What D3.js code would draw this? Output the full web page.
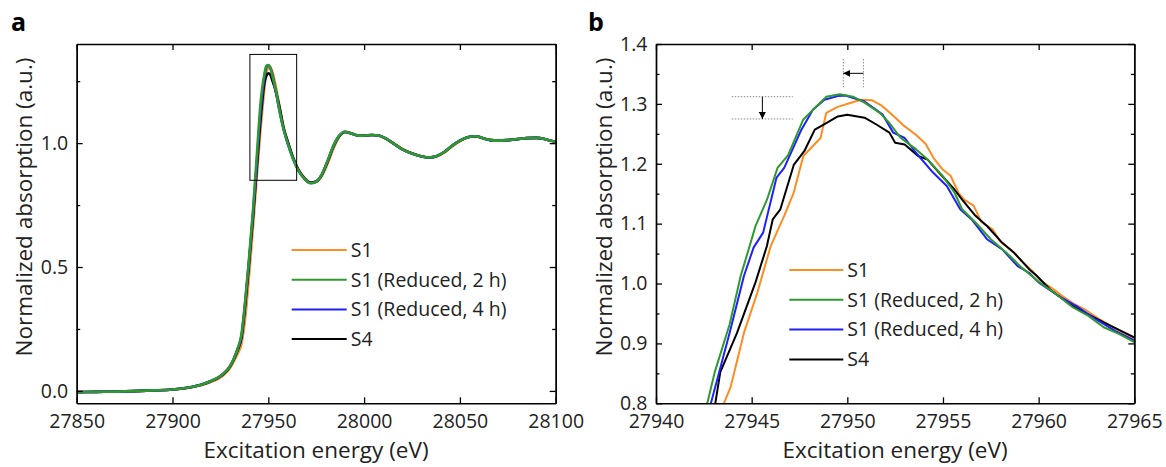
<!DOCTYPE html>
<html><head><meta charset="utf-8">
<script src="https://cdn.jsdelivr.net/npm/d3@7"></script>
<style>
html,body{margin:0;padding:0;background:#fff;}
svg text{font-family:"Open Sans","Noto Sans",sans-serif;}
</style></head>
<body>
<svg id="c" width="1166" height="467"></svg>
<script>
// ---------------- DATA ----------------
const seriesNames = ["S1", "S1 (Reduced, 2 h)", "S1 (Reduced, 4 h)", "S4"];

// Panel a: full spectra (shared energy grid)
const energyA = [27850,27860,27870,27880,27890,27900,27905,27910,27915,27920,27924,27927,27930,27932,27934,27936,27938,27940,27942,27944,27946,27948,27949,27950,27951,27952,27954,27956,27958,27960,27963,27966,27969,27972,27975,27978,27981,27984,27987,27990,27993,27996,28000,28004,28008,28012,28016,28020,28025,28030,28034,28038,28042,28046,28050,28054,28058,28062,28066,28070,28075,28080,28085,28090,28095,28100];
const s1A   = [-0.005,-0.004,-0.003,-0.001,0.002,0.006,0.009,0.015,0.023,0.036,0.050,0.066,0.092,0.12,0.15,0.19,0.30,0.47,0.66,0.87,1.06,1.225,1.29,1.302,1.306,1.29,1.225,1.14,1.065,1.008,0.94,0.89,0.86,0.842,0.843,0.868,0.918,0.978,1.025,1.044,1.040,1.033,1.030,1.033,1.030,1.016,0.996,0.977,0.959,0.947,0.943,0.947,0.963,0.987,1.008,1.023,1.028,1.021,1.012,1.010,1.012,1.016,1.020,1.021,1.015,1.005];
const s1r2A = [-0.005,-0.004,-0.003,-0.001,0.002,0.006,0.010,0.016,0.025,0.040,0.055,0.073,0.10,0.13,0.17,0.23,0.37,0.54,0.73,0.95,1.165,1.28,1.312,1.315,1.305,1.275,1.21,1.125,1.055,1.003,0.935,0.885,0.855,0.838,0.845,0.875,0.93,0.99,1.03,1.046,1.040,1.032,1.030,1.033,1.030,1.015,0.995,0.975,0.958,0.946,0.942,0.948,0.965,0.990,1.010,1.024,1.028,1.020,1.012,1.010,1.012,1.016,1.020,1.021,1.015,1.005];
const s1r4A = [-0.005,-0.004,-0.003,-0.001,0.002,0.006,0.010,0.016,0.025,0.040,0.055,0.072,0.10,0.13,0.17,0.22,0.36,0.53,0.71,0.92,1.13,1.27,1.307,1.314,1.305,1.28,1.205,1.125,1.057,1.002,0.936,0.886,0.856,0.839,0.845,0.874,0.928,0.988,1.029,1.046,1.040,1.032,1.030,1.033,1.030,1.015,0.995,0.975,0.958,0.946,0.942,0.948,0.965,0.990,1.010,1.024,1.028,1.020,1.012,1.010,1.012,1.016,1.020,1.021,1.015,1.005];
const s4A   = [-0.005,-0.004,-0.003,-0.001,0.002,0.006,0.010,0.016,0.025,0.039,0.054,0.071,0.098,0.127,0.165,0.215,0.35,0.52,0.70,0.90,1.10,1.245,1.272,1.282,1.277,1.255,1.207,1.14,1.06,1.01,0.94,0.888,0.857,0.840,0.845,0.873,0.927,0.987,1.028,1.045,1.040,1.032,1.030,1.033,1.030,1.015,0.995,0.975,0.958,0.946,0.942,0.948,0.965,0.990,1.010,1.024,1.028,1.020,1.012,1.010,1.012,1.016,1.020,1.021,1.015,1.005];

// Panel b: zoom of the white line, [energy, absorption]
const s1B = [[27943.4,0.78],[27943.55,0.80],[27943.9,0.827],[27944.6,0.918],[27945.3,0.985],[27946.0,1.063],[27946.7,1.113],[27947.2,1.152],[27947.7,1.213],[27948.6,1.243],[27948.9,1.285],[27949.5,1.295],[27950.2,1.302],[27950.7,1.307],[27951.3,1.306],[27951.8,1.297],[27952.3,1.283],[27952.9,1.265],[27953.6,1.248],[27954.1,1.233],[27954.5,1.21],[27955.0,1.19],[27955.4,1.18],[27955.8,1.152],[27956.1,1.14],[27956.6,1.13],[27957.0,1.103],[27957.6,1.09],[27958.0,1.07],[27958.6,1.055],[27959.1,1.038],[27959.7,1.02],[27960.1,1.005],[27960.8,0.99],[27961.2,0.98],[27961.9,0.965],[27962.5,0.955],[27963.2,0.94],[27964.0,0.925],[27965.0,0.908]];
const s1r2B = [[27942.5,0.78],[27942.68,0.80],[27943.07,0.852],[27943.85,0.932],[27944.43,1.013],[27945.0,1.074],[27945.2,1.096],[27945.8,1.14],[27946.35,1.193],[27946.9,1.214],[27947.7,1.274],[27948.3,1.293],[27948.9,1.312],[27949.6,1.316],[27950.3,1.312],[27950.9,1.302],[27951.7,1.285],[27952.2,1.268],[27952.8,1.243],[27953.6,1.224],[27954.2,1.207],[27955.0,1.179],[27955.6,1.152],[27956.0,1.124],[27956.7,1.102],[27957.5,1.074],[27958.3,1.052],[27959.1,1.027],[27960.0,1.003],[27960.8,0.985],[27961.8,0.96],[27962.6,0.946],[27963.4,0.927],[27964.2,0.916],[27965.0,0.902]];
const s1r4B = [[27942.65,0.78],[27942.87,0.80],[27943.85,0.918],[27944.6,1.013],[27945.1,1.06],[27945.6,1.085],[27946.3,1.177],[27946.7,1.193],[27947.6,1.257],[27948.2,1.29],[27948.8,1.307],[27949.5,1.313],[27949.9,1.314],[27950.9,1.304],[27951.85,1.282],[27952.4,1.252],[27953.0,1.243],[27953.6,1.218],[27954.4,1.188],[27955.2,1.163],[27955.9,1.124],[27956.5,1.107],[27957.3,1.074],[27958.1,1.057],[27958.9,1.029],[27959.5,1.018],[27960.0,1.002],[27961.0,0.98],[27962.0,0.962],[27963.0,0.94],[27964.0,0.921],[27965.0,0.905]];
const s4B = [[27942.95,0.78],[27943.1,0.80],[27943.36,0.852],[27944.24,0.918],[27945.2,1.002],[27945.8,1.063],[27946.1,1.107],[27946.5,1.124],[27947.2,1.198],[27947.75,1.221],[27948.3,1.257],[27948.9,1.268],[27949.5,1.279],[27950.0,1.282],[27950.9,1.277],[27951.5,1.266],[27952.2,1.252],[27952.5,1.235],[27953.0,1.232],[27953.7,1.213],[27954.2,1.207],[27954.8,1.185],[27955.6,1.157],[27956.0,1.14],[27956.7,1.113],[27957.3,1.096],[27958.1,1.068],[27958.7,1.052],[27959.5,1.024],[27959.9,1.013],[27960.6,0.99],[27961.6,0.966],[27962.4,0.952],[27963.4,0.935],[27965.0,0.91]];

// ticks
const xTicksA = [27850,27900,27950,28000,28050,28100];
const yTicksA = [0.0,0.5,1.0];
const yMinorA = [0.25,0.75,1.25];
const xTicksB = [27940,27945,27950,27955,27960,27965];
const yTicksB = [0.8,0.9,1.0,1.1,1.2,1.3,1.4];
const yMinorB = [0.85,0.95,1.05,1.15,1.25,1.35];

// annotations (data units)
const insetBox = {x0:27940.4, x1:27964.8, y0:0.85, y1:1.358};
const heightDrop = {x0:27943.96, x1:27947.15, xa:27945.56, yHigh:1.312, yLow:1.2748};
const edgeShift = {xOld:27950.84, xNew:27949.79, y0:1.3277, y1:1.375, ya:1.351};

// ---------------- STYLE ----------------
const colors = ["#ff8c21", "#2e9a2e", "#1f1fff", "#000000"];
const drawOrder = [0, 3, 2, 1];
const tickFont = "19.5px", titleFont = "22.5px";

const svg = d3.select("#c");
const defs = svg.append("defs");
defs.append("marker").attr("id","ah").attr("viewBox","0 0 10 10").attr("refX",10).attr("refY",5)
  .attr("markerWidth",7).attr("markerHeight",7).attr("markerUnits","userSpaceOnUse").attr("orient","auto")
  .append("path").attr("d","M0,0 L10,5 L0,10 Z").attr("fill","#000");

function panel(opt){
  const {x, y, xTicks, yTicks, yMinor, label, labelPos, xTitleX, yTitleY, yTitleX, lineW, legend} = opt;
  const g = svg.append("g");
  const [x0,x1] = x.range(), [y0,y1] = y.range(); // y0 bottom, y1 top
  const id = "clip"+label;
  defs.append("clipPath").attr("id",id).append("rect")
    .attr("x",x0).attr("y",y1).attr("width",x1-x0).attr("height",y0-y1);

  // curves
  const cg = g.append("g").attr("clip-path",`url(#${id})`);
  drawOrder.forEach(i=>{
    cg.append("path").datum(opt.series[i])
      .attr("fill","none").attr("stroke",colors[i]).attr("stroke-width",lineW)
      .attr("stroke-linejoin","round")
      .attr("d", d3.line().x(p=>x(p[0])).y(p=>y(p[1])).curve(opt.curve)(opt.series[i]));
  });

  // bottom axis
  g.append("g").attr("transform",`translate(0,${y0})`)
    .call(d3.axisBottom(x).tickValues(xTicks).tickFormat(d3.format("d")).tickSizeInner(-6).tickSizeOuter(0).tickPadding(10.5));
  // top axis
  g.append("g").attr("transform",`translate(0,${y1})`)
    .call(d3.axisTop(x).tickValues(xTicks).tickFormat("").tickSizeInner(-6).tickSizeOuter(0));
  // left axis
  g.append("g").attr("transform",`translate(${x0},0)`)
    .call(d3.axisLeft(y).tickValues(yTicks).tickFormat(d3.format(".1f")).tickSizeInner(-6).tickSizeOuter(0).tickPadding(8.5));
  g.append("g").attr("transform",`translate(${x0},0)`)
    .call(d3.axisLeft(y).tickValues(yMinor).tickFormat("").tickSizeInner(-3.5).tickSizeOuter(0));
  // right axis
  g.append("g").attr("transform",`translate(${x1},0)`)
    .call(d3.axisRight(y).tickValues(yTicks).tickFormat("").tickSizeInner(-6).tickSizeOuter(0));
  g.append("g").attr("transform",`translate(${x1},0)`)
    .call(d3.axisRight(y).tickValues(yMinor).tickFormat("").tickSizeInner(-3.5).tickSizeOuter(0));
  g.selectAll(".domain").attr("stroke","#000").attr("stroke-width",1.4);
  g.selectAll(".tick line").attr("stroke","#000").attr("stroke-width",1.3);
  g.selectAll(".tick text").attr("font-size",tickFont).attr("fill","#222")
    .style("font-family",'"Open Sans","Noto Sans",sans-serif');

  // titles
  g.append("text").attr("x",xTitleX).attr("y",458).attr("text-anchor","middle")
    .attr("font-size",titleFont).attr("fill","#222").text("Excitation energy (eV)");
  g.append("text").attr("transform",`translate(${yTitleX},${yTitleY}) rotate(-90)`).attr("text-anchor","middle")
    .attr("font-size",titleFont).attr("fill","#222").text("Normalized absorption (a.u.)");
  g.append("text").attr("x",labelPos[0]).attr("y",labelPos[1]).attr("font-size","25px")
    .attr("font-weight","bold").attr("fill","#000").text(label);

  // legend
  const lg = g.append("g");
  seriesNames.forEach((n,i)=>{
    const yy = legend.y + i*legend.dy;
    lg.append("line").attr("x1",legend.x).attr("x2",legend.x+legend.len).attr("y1",yy).attr("y2",yy)
      .attr("stroke",colors[i]).attr("stroke-width",2);
    lg.append("text").attr("x",legend.x+legend.len+4).attr("y",yy).attr("dy","0.35em")
      .attr("font-size",tickFont).attr("fill","#222").text(n);
  });
  return g;
}

// Panel a
const xA = d3.scaleLinear().domain([27850,28100]).range([76.7,555.7]);
const yA = d3.scaleLinear().domain([-0.05,1.40]).range([403.3,44]);
const zipA = arr => energyA.map((e,i)=>[e,arr[i]]);
const gA = panel({x:xA, y:yA, xTicks:xTicksA, yTicks:yTicksA, yMinor:yMinorA, label:"a", labelPos:[11,31],
  xTitleX:316, yTitleX:32, yTitleY:207, lineW:2.6, curve:d3.curveMonotoneX,
  series:[zipA(s1A), zipA(s1r2A), zipA(s1r4A), zipA(s4A)],
  legend:{x:291.7, len:55, y:250, dy:29.7}});
gA.append("rect").attr("x",xA(insetBox.x0)).attr("y",yA(insetBox.y1))
  .attr("width",xA(insetBox.x1)-xA(insetBox.x0)).attr("height",yA(insetBox.y0)-yA(insetBox.y1))
  .attr("fill","none").attr("stroke","#000").attr("stroke-width",1);

// Panel b
const xB = d3.scaleLinear().domain([27940,27965]).range([656,1134.3]);
const yB = d3.scaleLinear().domain([0.8,1.4]).range([403.3,44]);
const gB = panel({x:xB, y:yB, xTicks:xTicksB, yTicks:yTicksB, yMinor:yMinorB, label:"b", labelPos:[588,31],
  xTitleX:895, yTitleX:612, yTitleY:207, lineW:2, curve:d3.curveLinear,
  series:[s1B, s1r2B, s1r4B, s4B],
  legend:{x:789.3, len:54, y:270, dy:29.8}});

const dot = sel => sel.attr("stroke","#8a8a8a").attr("stroke-width",1).attr("stroke-dasharray","1.5,1.5");
[heightDrop.yHigh, heightDrop.yLow].forEach(v=>{
  gB.append("line").attr("x1",xB(heightDrop.x0)).attr("x2",xB(heightDrop.x1)).attr("y1",yB(v)).attr("y2",yB(v)).call(dot);
});
gB.append("line").attr("x1",xB(heightDrop.xa)).attr("x2",xB(heightDrop.xa))
  .attr("y1",yB(heightDrop.yHigh)).attr("y2",yB(heightDrop.yLow))
  .attr("stroke","#000").attr("stroke-width",1).attr("marker-end","url(#ah)");
[edgeShift.xOld, edgeShift.xNew].forEach(v=>{
  gB.append("line").attr("x1",xB(v)).attr("x2",xB(v)).attr("y1",yB(edgeShift.y1)).attr("y2",yB(edgeShift.y0)).call(dot);
});
gB.append("line").attr("x1",xB(edgeShift.xOld)).attr("x2",xB(edgeShift.xNew))
  .attr("y1",yB(edgeShift.ya)).attr("y2",yB(edgeShift.ya))
  .attr("stroke","#000").attr("stroke-width",1).attr("marker-end","url(#ah)");
</script>
</body></html>
